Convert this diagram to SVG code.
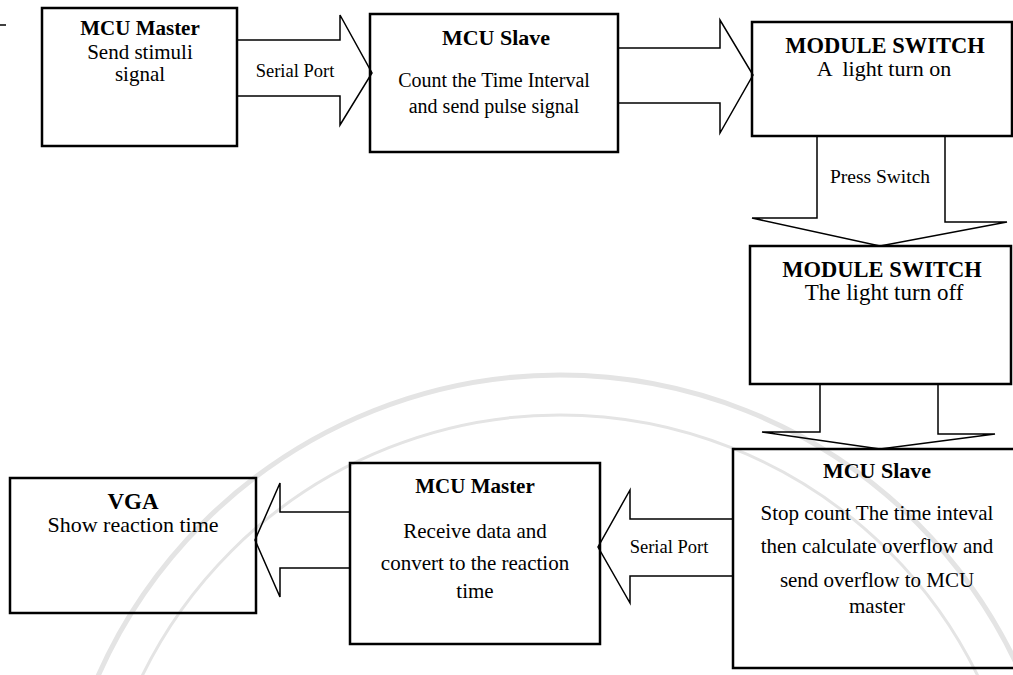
<svg xmlns="http://www.w3.org/2000/svg" width="1013" height="675" viewBox="0 0 1013 675">
<style>
.bg{fill:#ffffff}
.wm{fill:none;stroke:#e4e4e4}
.box{fill:none;stroke:#000;stroke-width:2.5}
.arr{fill:none;stroke:#000;stroke-width:1.5;stroke-linejoin:miter}
text{font-family:"Liberation Serif","Times New Roman",serif;fill:#000;text-anchor:middle}
.t{font-weight:bold;font-size:22px}
.b{font-size:21px}
.l{font-size:18.5px}
</style>
<rect class="bg" x="0" y="0" width="1013" height="675"/>
<g id="watermark">
<circle class="wm" cx="560" cy="880" r="505" stroke-width="5"/>
<circle class="wm" cx="560" cy="880" r="465" stroke-width="3"/>
</g>
<line x1="0" y1="25" x2="6" y2="25" stroke="#000" stroke-width="1.5"/>
<g id="connectors">
<path class="arr" d="M237,40 H340 V15 L372,73 L340,125 V96 H237"/>
<path class="arr" d="M618,48 H720 V20 L753,75 L720,133 V103 H618"/>
<path class="arr" d="M817,136 V218 H752 L880,246 L1007,222 H945 V136"/>
<path class="arr" d="M820,384 V432 H762 L880,449 L995,434 H938 V384"/>
<path class="arr" d="M733,519 H630 V490 L598,547 L630,603 V576 H733"/>
<path class="arr" d="M350,512 H280 V483 L255,540 L280,597 V568 H350"/>
<text class="l" x="295" y="77">Serial Port</text>
<text class="l" x="880" y="183" style="font-size:19.5px">Press Switch</text>
<text class="l" x="669" y="553">Serial Port</text>
</g>
<g id="mcu-master-1">
<rect class="box" x="42" y="8" width="195" height="138"/>
<text class="t" x="140" y="35" style="font-size:21px">MCU Master</text>
<text class="b" x="140" y="59">Send stimuli</text>
<text class="b" x="140" y="81">signal</text>
</g>
<g id="mcu-slave-1">
<rect class="box" x="370" y="14" width="248" height="138"/>
<text class="t" x="496" y="45">MCU Slave</text>
<text class="b" x="494" y="87" style="font-size:20px">Count the Time Interval</text>
<text class="b" x="494" y="113" style="font-size:20px">and send pulse signal</text>
</g>
<g id="module-switch-on">
<rect class="box" x="752" y="22" width="260" height="114"/>
<text class="t" x="885" y="53" style="font-size:22.5px">MODULE SWITCH</text>
<text class="b" x="884" y="76" style="font-size:22px;white-space:pre" xml:space="preserve">A  light turn on</text>
</g>
<g id="module-switch-off">
<rect class="box" x="750" y="246" width="261" height="138"/>
<text class="t" x="882" y="277" style="font-size:22.5px">MODULE SWITCH</text>
<text class="b" x="884" y="300" style="font-size:23px">The light turn off</text>
</g>
<g id="mcu-slave-2">
<rect class="box" x="733" y="449" width="283" height="219"/>
<text class="t" x="877" y="478">MCU Slave</text>
<text class="b" x="877" y="520">Stop count The time inteval</text>
<text class="b" x="877" y="553">then calculate overflow and</text>
<text class="b" x="877" y="587">send overflow to MCU</text>
<text class="b" x="877" y="613">master</text>
</g>
<g id="mcu-master-2">
<rect class="box" x="350" y="463" width="250" height="181"/>
<text class="t" x="475" y="493" style="font-size:21px">MCU Master</text>
<text class="b" x="475" y="538">Receive data and</text>
<text class="b" x="475" y="570">convert to the reaction</text>
<text class="b" x="475" y="598">time</text>
</g>
<g id="vga">
<rect class="box" x="10" y="478" width="246" height="135"/>
<text class="t" x="133" y="509" style="font-size:23px">VGA</text>
<text class="b" x="133" y="532" style="font-size:22px">Show reaction time</text>
</g>
</svg>
